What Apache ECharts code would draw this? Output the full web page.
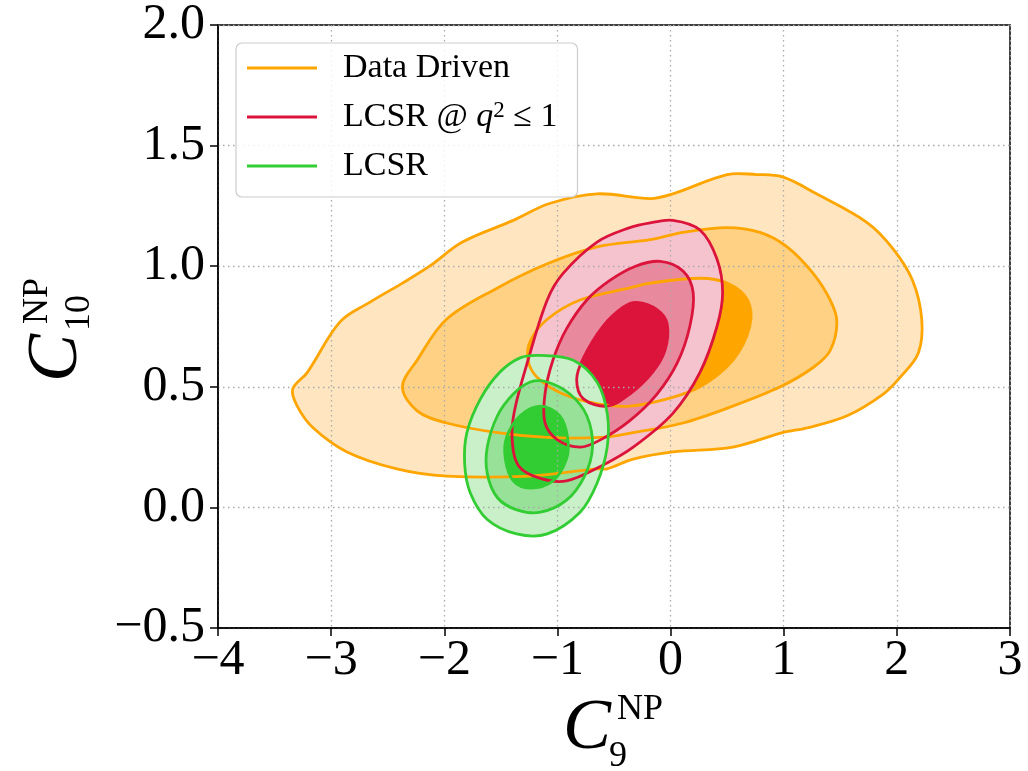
<!DOCTYPE html>
<html>
<head>
<meta charset="UTF-8">
<title>C9 C10 contours</title>
<script src="https://cdn.jsdelivr.net/npm/echarts@6/dist/echarts.min.js"></script>
</head>
<body style="margin:0">
<div id="main" style="width:1028px;height:771px;"></div>
<script type="text/javascript">
// tick values
var xTicks = [-4, -3, -2, -1, 0, 1, 2, 3];
var yTicks = [-0.5, 0.0, 0.5, 1.0, 1.5, 2.0];

// contour outlines, [C9, C10]
var ddOuter = [[-3.34,0.49],[-3.21,0.56],[-2.92,0.77],[-2.66,0.85],[-2.37,0.93],[-2.13,1.00],[-1.84,1.10],[-1.39,1.19],[-1.07,1.26],[-0.65,1.30],[-0.18,1.28],[0.02,1.30],[0.50,1.38],[0.76,1.38],[0.99,1.37],[1.29,1.30],[1.74,1.18],[1.97,1.07],[2.14,0.94],[2.22,0.78],[2.19,0.64],[2.03,0.54],[1.88,0.47],[1.56,0.38],[1.21,0.33],[0.99,0.31],[0.55,0.25],[0.02,0.23],[-0.33,0.20],[-0.56,0.16],[-0.65,0.16],[-1.24,0.13],[-1.98,0.13],[-2.42,0.16],[-2.86,0.23],[-3.16,0.33],[-3.30,0.42]];
var ddMid = [[-2.37,0.50],[-2.24,0.61],[-1.98,0.78],[-1.53,0.91],[-1.09,1.01],[-0.65,1.08],[-0.18,1.11],[0.11,1.14],[0.50,1.16],[0.79,1.14],[1.03,1.08],[1.26,0.97],[1.41,0.86],[1.47,0.77],[1.41,0.65],[1.26,0.58],[0.97,0.50],[0.55,0.42],[0.11,0.35],[-0.33,0.31],[-0.62,0.29],[-1.09,0.29],[-1.53,0.31],[-1.98,0.35],[-2.24,0.40]];
var ddInner = [[-1.26,0.61],[-1.24,0.69],[-1.09,0.78],[-0.80,0.86],[-0.36,0.91],[-0.18,0.93],[0.26,0.95],[0.50,0.93],[0.68,0.86],[0.70,0.75],[0.55,0.61],[0.26,0.50],[-0.03,0.45],[-0.36,0.42],[-0.65,0.43],[-0.95,0.47],[-1.18,0.54]];

var lqOuter = [[0.02,1.19],[0.26,1.15],[0.41,1.03],[0.46,0.89],[0.41,0.75],[0.26,0.56],[0.02,0.39],[-0.33,0.25],[-0.62,0.17],[-0.92,0.11],[-1.15,0.12],[-1.34,0.17],[-1.40,0.28],[-1.38,0.40],[-1.26,0.61],[-1.09,0.86],[-0.95,0.97],[-0.65,1.10],[-0.36,1.16],[-0.18,1.18]];
var lqMid = [[-0.09,1.02],[0.11,0.98],[0.20,0.89],[0.17,0.75],[0.06,0.60],[-0.12,0.47],[-0.36,0.36],[-0.62,0.28],[-0.80,0.25],[-1.00,0.28],[-1.11,0.35],[-1.11,0.47],[-1.04,0.61],[-0.92,0.74],[-0.74,0.86],[-0.54,0.94],[-0.31,1.00]];
var lqInner = [[-0.30,0.85],[-0.12,0.82],[-0.03,0.76],[-0.05,0.65],[-0.16,0.56],[-0.36,0.47],[-0.56,0.42],[-0.77,0.45],[-0.83,0.53],[-0.77,0.62],[-0.60,0.75],[-0.42,0.83]];

var lcOuter = [[-1.15,0.63],[-0.86,0.61],[-0.65,0.52],[-0.56,0.39],[-0.56,0.25],[-0.65,0.10],[-0.80,-0.02],[-1.09,-0.11],[-1.36,-0.11],[-1.62,-0.05],[-1.77,0.06],[-1.82,0.18],[-1.80,0.31],[-1.68,0.45],[-1.51,0.56],[-1.33,0.62]];
var lcMid = [[-1.09,0.52],[-0.89,0.47],[-0.74,0.38],[-0.69,0.25],[-0.76,0.13],[-0.92,0.03],[-1.15,-0.02],[-1.36,-0.01],[-1.53,0.04],[-1.62,0.14],[-1.62,0.25],[-1.53,0.38],[-1.39,0.47],[-1.24,0.52]];
var lcInner = [[-1.15,0.42],[-0.98,0.38],[-0.91,0.29],[-0.92,0.20],[-1.04,0.11],[-1.24,0.08],[-1.39,0.11],[-1.46,0.20],[-1.45,0.29],[-1.33,0.38]];

var names = ['Data Driven', 'LCSR @ q2', 'LCSR'];
var lineColors = ['#FFA500', '#DC143C', '#32CD32'];
var fillColors = [
	['#FFE6C0', '#FFD184', '#FFA500'],
	['#F5C3CE', '#E9899D', '#DC143C'],
	['#C9F0C9', '#98E198', '#32CD32']
];
var groups = [[ddOuter, ddMid, ddInner], [lqOuter, lqMid, lqInner], [lcOuter, lcMid, lcInner]];

var font = '"Liberation Serif", "DejaVu Serif", serif';

function contourSeries(g, mode) {
	var polys = groups[g];
	return {
		name: names[g],
		type: 'custom',
		z: mode === 'fill' ? 1 : 3,
		silent: true,
		itemStyle: {color: lineColors[g]},
		data: polys.map(function (p, i) { return [p[0][0], p[0][1], i]; }),
		renderItem: function (params, api) {
			var idx = api.value(2);
			var pts = polys[idx].map(function (p) { return api.coord(p); });
			if (mode === 'fill') {
				return {type: 'polygon', shape: {points: pts, smooth: 0.35},
					style: {fill: fillColors[g][idx], stroke: null}};
			}
			return {type: 'polygon', shape: {points: pts, smooth: 0.35},
				style: {fill: null, stroke: lineColors[g], lineWidth: 2.8}};
		}
	};
}

function tickText(v, digits) {
	var s = Math.abs(v).toFixed(digits);
	return (v < 0 ? '\u2212' : '') + s;
}

var gridLine = {show: true, lineStyle: {color: '#aaaaaa', type: [1.5, 3.5], width: 1.3}};

var myChart = echarts.init(document.getElementById('main'));
var option = {
	animation: false,
	grid: {left: 218, right: 18, top: 25, bottom: 143, show: true,
		borderColor: '#000', borderWidth: 1.5, backgroundColor: 'transparent'},
	xAxis: {
		type: 'value', z: 2,
		min: xTicks[0], max: xTicks[xTicks.length - 1], interval: xTicks[1] - xTicks[0],
		axisLine: {onZero: false, lineStyle: {color: '#000', width: 1.5}},
		axisTick: {length: 8, lineStyle: {color: '#000', width: 1.5}},
		axisLabel: {color: '#000', fontSize: 50, fontFamily: font, margin: 8,
			formatter: function (v) { return tickText(v, 0); }},
		splitLine: gridLine
	},
	yAxis: {
		type: 'value', z: 2,
		min: yTicks[0], max: yTicks[yTicks.length - 1], interval: yTicks[1] - yTicks[0],
		axisLine: {show: true, onZero: false, lineStyle: {color: '#000', width: 1.5}},
		axisTick: {show: true, length: 8, lineStyle: {color: '#000', width: 1.5}},
		axisLabel: {color: '#000', fontSize: 50, fontFamily: font, margin: 13,
			formatter: function (v) { return tickText(v, 1); }},
		splitLine: gridLine
	},
	legend: {
		left: 236, top: 43, orient: 'vertical',
		itemWidth: 70, itemHeight: 3, itemGap: 13,
		padding: [7, 20, 13, 11],
		backgroundColor: 'rgba(255,255,255,0.85)',
		borderColor: '#cccccc', borderWidth: 1.2, borderRadius: 6,
		data: names.map(function (n, i) {
			return {name: n, icon: 'rect', itemStyle: {color: lineColors[i]}};
		}),
		formatter: function (n) {
			return n === 'LCSR @ q2' ? 'LCSR @ {i|q}{sup|2} \u2264 1' : n;
		},
		textStyle: {
			fontSize: 34, fontFamily: font, color: '#000', lineHeight: 36, padding: [0, 0, 0, 21],
			rich: {
				i: {fontSize: 34, fontStyle: 'italic', fontFamily: font, color: '#000'},
				sup: {fontSize: 23, fontFamily: font, color: '#000', verticalAlign: 'top'}
			}
		}
	},
	graphic: [
		{type: 'text', x: 587, y: 729, silent: true,
			style: {text: 'C', font: 'italic 72px ' + font, fill: '#000', align: 'center', verticalAlign: 'middle'}},
		{type: 'text', x: 640, y: 710, silent: true,
			style: {text: 'NP', font: '36px ' + font, fill: '#000', align: 'center', verticalAlign: 'middle'}},
		{type: 'text', x: 618, y: 757, silent: true,
			style: {text: '9', font: '36px ' + font, fill: '#000', align: 'center', verticalAlign: 'middle'}},
		{type: 'text', x: 57, y: 358, rotation: Math.PI / 2, silent: true,
			style: {text: 'C', font: 'italic 72px ' + font, fill: '#000', align: 'center', verticalAlign: 'middle'}},
		{type: 'text', x: 38, y: 301, rotation: Math.PI / 2, silent: true,
			style: {text: 'NP', font: '36px ' + font, fill: '#000', align: 'center', verticalAlign: 'middle'}},
		{type: 'text', x: 80, y: 313, rotation: Math.PI / 2, silent: true,
			style: {text: '10', font: '36px ' + font, fill: '#000', align: 'center', verticalAlign: 'middle'}}
	],
	series: [
		contourSeries(0, 'fill'), contourSeries(1, 'fill'), contourSeries(2, 'fill'),
		contourSeries(0, 'line'), contourSeries(1, 'line'), contourSeries(2, 'line')
	]
};
myChart.setOption(option);
</script>
</body>
</html>
